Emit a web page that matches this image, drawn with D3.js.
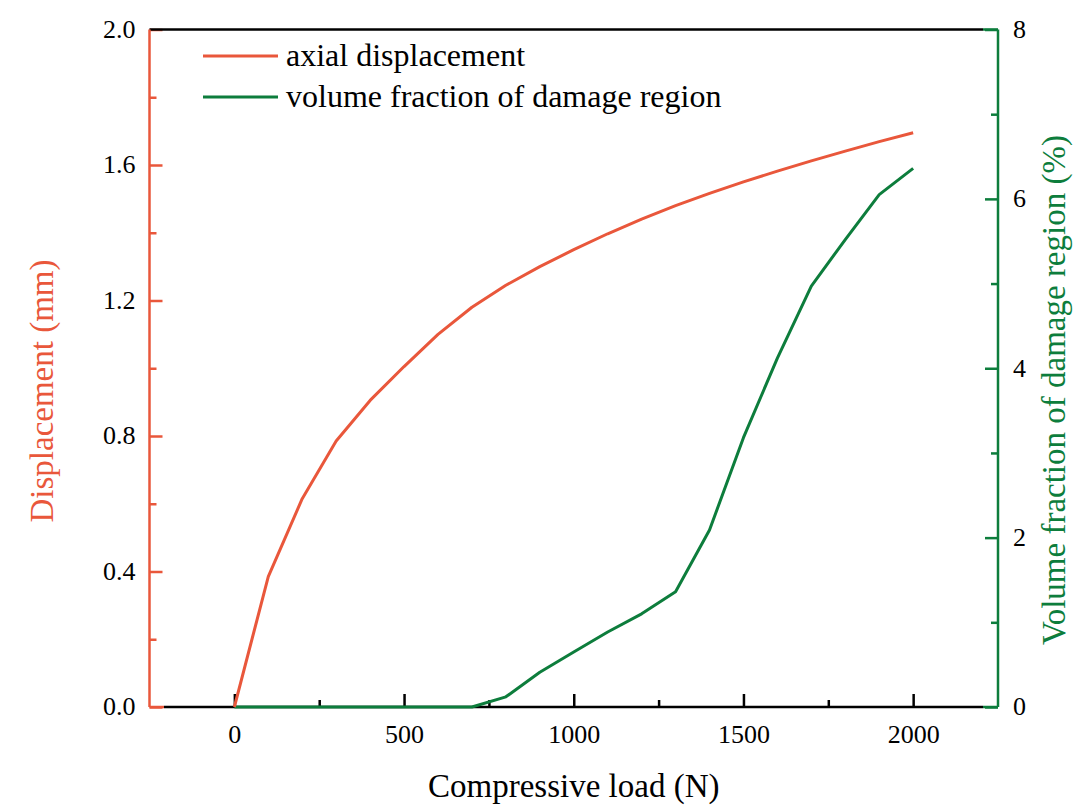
<!DOCTYPE html>
<html>
<head>
<meta charset="utf-8">
<script src="https://cdn.jsdelivr.net/npm/d3@7"></script>
<style>
  body { margin: 0; background: #fff; }
  svg { display: block; font-family: 'Liberation Serif', 'Times New Roman', serif; }
</style>
</head>
<body>
<svg id="chart" width="1084" height="807"></svg>
<script>
// compressive load (N), one sample every 100 N
const loads = [0, 100, 200, 300, 400, 500, 600, 700, 800, 900, 1000,
  1100, 1200, 1300, 1400, 1500, 1600, 1700, 1800, 1900, 2000];
// axial displacement (mm)
const displacement = [0, 0.385, 0.615, 0.785, 0.905, 1.005, 1.10, 1.18, 1.245, 1.30, 1.35,
  1.397, 1.44, 1.48, 1.516, 1.55, 1.582, 1.612, 1.641, 1.669, 1.695];
// volume fraction of damage region (%)
const damageFraction = [0, 0, 0, 0, 0, 0, 0, 0, 0.12, 0.41, 0.65,
  0.885, 1.10, 1.36, 2.09, 3.18, 4.12, 4.97, 5.52, 6.05, 6.36];

const xMajor = [0, 500, 1000, 1500, 2000];
const xMinor = [250, 750, 1250, 1750];
const yLeftMajor = [0, 0.4, 0.8, 1.2, 1.6, 2.0];
const yLeftMinor = [0.2, 0.6, 1.0, 1.4, 1.8];
const yRightMajor = [0, 2, 4, 6, 8];
const yRightMinor = [1, 3, 5, 7];

const seriesNames = ['axial displacement', 'volume fraction of damage region'];
const red = '#e9573b';
const green = '#0d7d3c';

const svg = d3.select('#chart');
const plotLeft = 149.5;
const plotRight = 998;
const plotTop = 29.5;
const plotBottom = 707;

const x = d3.scaleLinear().domain([-250, 2250]).range([plotLeft, plotRight]);
const yL = d3.scaleLinear().domain([0, 2]).range([plotBottom, plotTop]);
const yR = d3.scaleLinear().domain([0, 8]).range([plotBottom, plotTop]);

const fmt1 = d3.format('.1f');

// bottom axis (black), ticks pointing in
const gx = svg.append('g').attr('transform', `translate(0,${plotBottom})`);
gx.call(d3.axisBottom(x).tickValues(xMajor).tickSize(-13).tickSizeOuter(0).tickFormat(d3.format('d')));
gx.append('g').call(d3.axisBottom(x).tickValues(xMinor).tickSize(-7).tickSizeOuter(0).tickFormat(''));
gx.selectAll('.domain').remove();
gx.selectAll('line').attr('stroke', '#000').attr('stroke-width', 2.5);
gx.selectAll('text')
  .attr('y', 36)
  .attr('dy', null)
  .attr('fill', '#000')
  .attr('font-size', 26)
  .attr('font-family', 'Liberation Serif');

// left axis (red)
const gl = svg.append('g').attr('transform', `translate(${plotLeft},0)`);
gl.call(d3.axisLeft(yL).tickValues(yLeftMajor).tickSize(-13).tickSizeOuter(0).tickFormat(fmt1));
gl.append('g').call(d3.axisLeft(yL).tickValues(yLeftMinor).tickSize(-7).tickSizeOuter(0).tickFormat(''));
gl.selectAll('.domain').remove();
gl.selectAll('line').attr('stroke', red).attr('stroke-width', 2.5);
gl.selectAll('text')
  .attr('x', -14)
  .attr('dy', '0.3em')
  .attr('fill', '#000')
  .attr('font-size', 26)
  .attr('font-family', 'Liberation Serif');

// right axis (green)
const gr = svg.append('g').attr('transform', `translate(${plotRight},0)`);
gr.call(d3.axisRight(yR).tickValues(yRightMajor).tickSize(-13).tickSizeOuter(0).tickFormat(d3.format('d')));
gr.append('g').call(d3.axisRight(yR).tickValues(yRightMinor).tickSize(-7).tickSizeOuter(0).tickFormat(''));
gr.selectAll('.domain').remove();
gr.selectAll('line').attr('stroke', green).attr('stroke-width', 2.5);
gr.selectAll('text')
  .attr('x', 15)
  .attr('dy', '0.3em')
  .attr('fill', '#000')
  .attr('font-size', 26)
  .attr('font-family', 'Liberation Serif');

// frame lines, coloured like Origin draws them
const frame = svg.append('g').attr('stroke-width', 2.5).attr('fill', 'none');
frame.append('line').attr('x1', plotLeft).attr('x2', 983).attr('y1', plotTop).attr('y2', plotTop).attr('stroke', '#000');
frame.append('line').attr('x1', 164).attr('x2', 983).attr('y1', plotBottom).attr('y2', plotBottom).attr('stroke', '#000');
frame.append('line').attr('x1', plotLeft).attr('x2', 164).attr('y1', plotBottom).attr('y2', plotBottom).attr('stroke', red);
frame.append('line').attr('x1', plotLeft).attr('x2', plotLeft).attr('y1', plotTop).attr('y2', plotBottom).attr('stroke', red);
frame.append('line').attr('x1', 983).attr('x2', plotRight).attr('y1', plotTop).attr('y2', plotTop).attr('stroke', green);
frame.append('line').attr('x1', 983).attr('x2', plotRight).attr('y1', plotBottom).attr('y2', plotBottom).attr('stroke', green);
frame.append('line').attr('x1', plotRight).attr('x2', plotRight).attr('y1', plotTop).attr('y2', plotBottom).attr('stroke', green);

// curves
const dispLine = d3.line().x((d, i) => x(loads[i])).y(d => yL(d));
const damageLine = d3.line().x((d, i) => x(loads[i])).y(d => yR(d));

svg.append('path')
  .datum(damageFraction)
  .attr('d', damageLine)
  .attr('fill', 'none')
  .attr('stroke', green)
  .attr('stroke-width', 3)
  .attr('stroke-linejoin', 'round');

svg.append('path')
  .datum(displacement)
  .attr('d', dispLine)
  .attr('fill', 'none')
  .attr('stroke', red)
  .attr('stroke-width', 3)
  .attr('stroke-linejoin', 'round');

// axis titles
svg.append('text')
  .attr('x', (plotLeft + plotRight) / 2)
  .attr('y', 797)
  .attr('text-anchor', 'middle')
  .attr('font-size', 33)
  .text('Compressive load (N)');

svg.append('text')
  .attr('transform', 'translate(53,391) rotate(-90)')
  .attr('text-anchor', 'middle')
  .attr('font-size', 33)
  .attr('fill', red)
  .text('Displacement (mm)');

svg.append('text')
  .attr('transform', 'translate(1065,390) rotate(-90)')
  .attr('text-anchor', 'middle')
  .attr('font-size', 33)
  .attr('fill', green)
  .text('Volume fraction of damage region (%)');

// legend
const legend = svg.append('g');
[red, green].forEach((c, i) => {
  const ly = 56 + i * 41;
  legend.append('line')
    .attr('x1', 203).attr('x2', 278)
    .attr('y1', ly).attr('y2', ly)
    .attr('stroke', c)
    .attr('stroke-width', 3);
  legend.append('text')
    .attr('x', 286)
    .attr('y', ly + 10)
    .attr('font-size', 32)
    .text(seriesNames[i]);
});
</script>
</body>
</html>
